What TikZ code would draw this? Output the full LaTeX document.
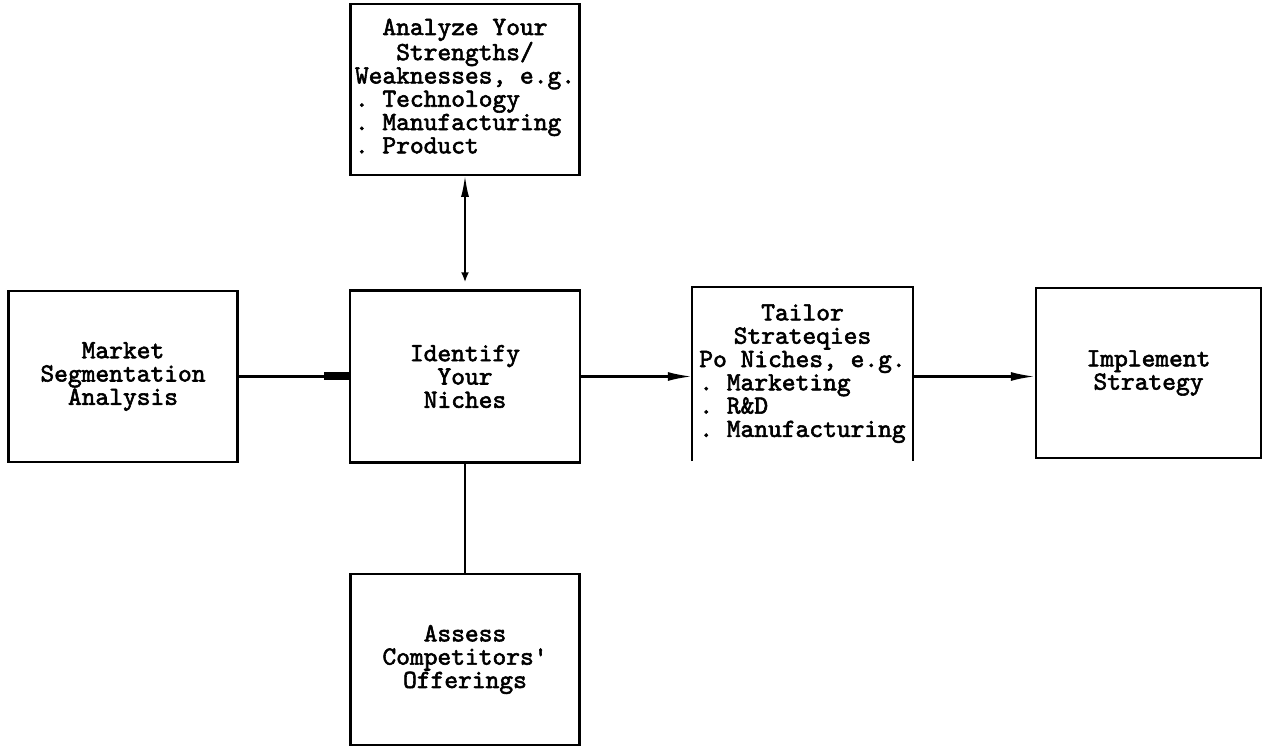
\documentclass[tikz,border=0pt]{standalone}
\usepackage{fontspec}
\newfontfamily\boxfont{lmmono10-regular.otf}[FakeBold=2.2]
\usetikzlibrary{arrows.meta}
\newcommand{\bulline}[1]{\multicolumn{1}{@{}l@{}}{.\ #1}}
\begin{document}
\begin{tikzpicture}[
  x=0.5pt,y=-0.5pt,
  box/.style={draw, line width=1.2pt, align=center, inner sep=0pt,
    minimum width=114.5pt, minimum height=85.5pt,
    font=\boxfont\fontsize{13.1}{11.65}\selectfont},
  openbox/.style={box, draw=none},
  arrow/.style={-{Latex[length=12pt,width=4.5pt]}, line width=1.1pt}
]
\useasboundingbox (0,0) rectangle (1263,747);

\node[box] (market) at (123,376.5) {Market\\Segmentation\\Analysis};
\node[box, minimum width=115pt, minimum height=86pt] (identify) at (465,376.5) {Identify\\Your\\Niches};
\node[box] (analyze) at (465,89.5) {\begin{tabular}{@{}c@{}}Analyze Your\\Strengths/\\Weaknesses, e.g.\\
  \bulline{Technology}\\\bulline{Manufacturing}\\\bulline{Product}\end{tabular}};
\node[box] (assess) at (465,659.5) {Assess\\Competitors\textquotesingle\\Offerings};
\node[openbox, minimum width=109.5pt, minimum height=86pt] (tailor) at (802.5,374) {\begin{tabular}{@{}c@{}}Tailor\\Strateqies\\Po Niches, e.g.\\
  \bulline{Marketing}\\\bulline{R\&D}\\\bulline{Manufacturing}\end{tabular}};
\draw[line width=1.2pt] (tailor.south west) -- (tailor.north west) -- (tailor.north east) -- (tailor.south east);
\node[box, minimum width=112.5pt, minimum height=85pt] (implement) at (1148.5,373) {Implement\\Strategy};

\draw[-{Rectangle[length=12.5pt,width=4pt]}, line width=1.1pt] (market) -- (identify);
\draw[{Latex[length=11pt,width=4pt]}-{Latex[length=5pt,width=4pt]}, line width=1.1pt, shorten <=-0.6pt, shorten >=3.5pt] (analyze) -- (identify);
\draw[line width=1.1pt] (identify) -- (assess);
\draw[arrow] (identify.east) -- (identify.east -| tailor.west);
\draw[arrow] (identify.east -| tailor.east) -- (identify.east -| implement.west);
\end{tikzpicture}
\end{document}
